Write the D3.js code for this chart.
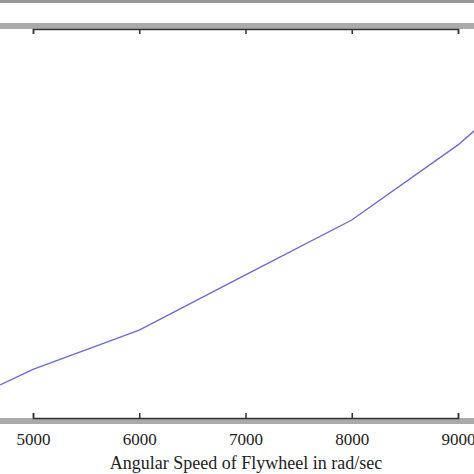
<!DOCTYPE html><html><head><script src="https://cdn.jsdelivr.net/npm/d3@7"></script>
<style>body{margin:0;background:#fff}</style></head><body><svg id="c" width="474" height="474"></svg><script>
const speeds=[4690,5000,6000,7000,8000,9000,9160];
const values=[8.5,12.5,22.6,36.8,50.9,70.2,74];
const ticks=[5000,6000,7000,8000,9000];
const svg=d3.select("#c");
const x=d3.scaleLinear().domain([5000,9000]).range([33,458]);
const y=d3.scaleLinear().domain([0,100]).range([418,29]);
svg.append("rect").attr("x",0).attr("y",0).attr("width",474).attr("height",3).attr("fill","#999");
svg.append("rect").attr("x",0).attr("y",23).attr("width",474).attr("height",6).attr("fill","#aaa");
svg.append("rect").attr("x",0).attr("y",418).attr("width",474).attr("height",6).attr("fill","#aaa");
svg.append("defs").append("clipPath").attr("id","cp").append("rect").attr("x",0).attr("y",29).attr("width",474).attr("height",389);
svg.append("path").datum(speeds.map((s,i)=>[s,values[i]])).attr("clip-path","url(#cp)")
 .attr("d",d3.line().x(d=>x(d[0])).y(d=>y(d[1]))).attr("fill","none").attr("stroke","#6a6ad8").attr("stroke-width",1.4);
const gTop=svg.append("g").attr("transform","translate(0,29)").call(d3.axisTop(x).tickValues(ticks).tickSize(-5).tickFormat(""));
const gBot=svg.append("g").attr("transform","translate(0,418)").call(d3.axisBottom(x).tickValues(ticks).tickSize(-5).tickPadding(12).tickFormat(d3.format("d")));
[gTop,gBot].forEach(g=>{g.select(".domain").attr("stroke","#333").attr("stroke-width",1.5);g.selectAll("line").attr("stroke","#333").attr("stroke-width",1.5);
 g.selectAll("text").attr("font-family","Liberation Serif").attr("font-size",17).attr("fill","#222");});
gBot.selectAll("text").attr("dy","0.9em");
svg.append("text").attr("x",246).attr("y",469).attr("text-anchor","middle").attr("font-family","Liberation Serif").attr("font-size",18).attr("fill","#222").text("Angular Speed of Flywheel in rad/sec");
</script></body></html>
